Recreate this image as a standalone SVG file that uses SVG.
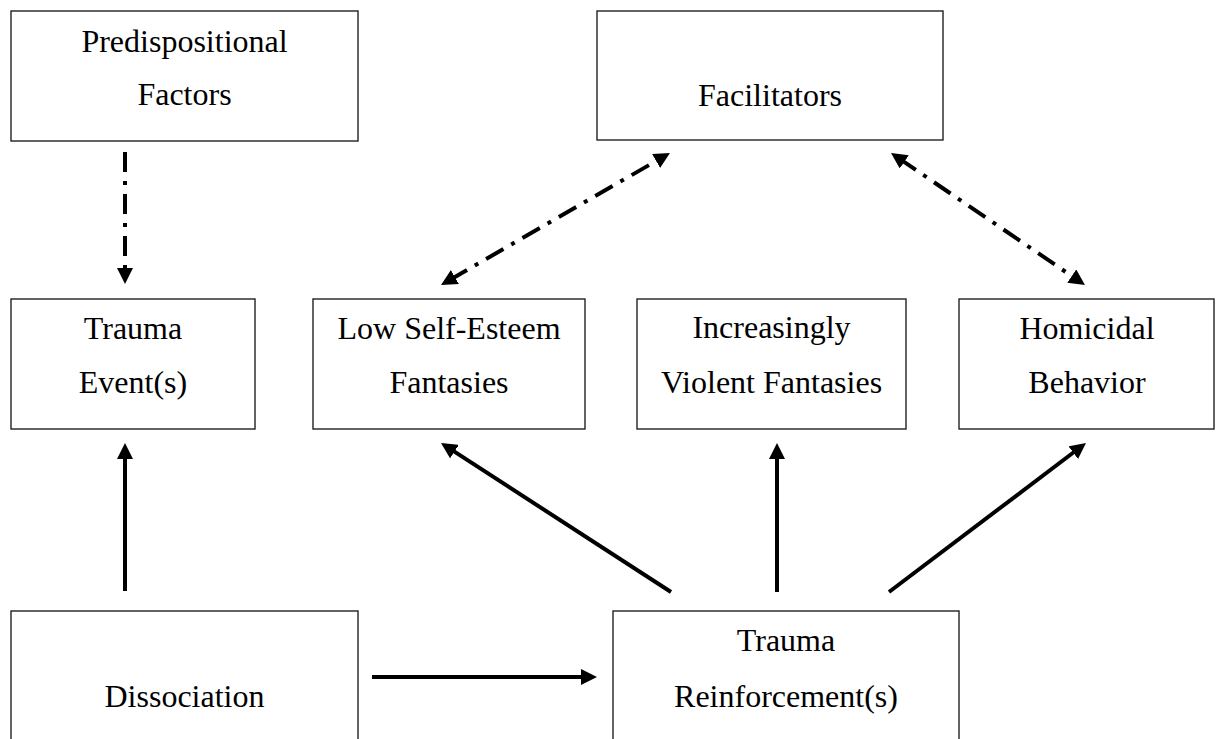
<svg xmlns="http://www.w3.org/2000/svg" width="1219" height="739" viewBox="0 0 1219 739">
  <style>
    .box { fill: #ffffff; stroke: #222222; stroke-width: 1.4; }
    .label { font-size: 32px; fill: #000000; text-anchor: middle; }
    .solid { fill: none; stroke: #000000; stroke-width: 4; marker-end: url(#head); }
    .dashdot { fill: none; stroke: #000000; stroke-width: 4; stroke-dasharray: 20 9 4 9; }
    .one-way { marker-end: url(#head); }
    .two-way { marker-start: url(#head); marker-end: url(#head); }
  </style>
  <defs>
    <marker id="head" markerUnits="userSpaceOnUse" markerWidth="16" markerHeight="16" refX="6" refY="8" orient="auto-start-reverse">
      <path d="M0,0 L16,8 L0,16 Z" fill="#000000"/>
    </marker>
  </defs>
  <rect width="1219" height="739" fill="#ffffff"/>

  <g font-family="'Liberation Serif', 'Times New Roman', Times, 'DejaVu Serif', serif">
  <g id="predispositional-factors">
    <rect class="box" x="11" y="11" width="347" height="130"/>
    <text class="label" x="184.5" y="52">Predispositional</text>
    <text class="label" x="184.5" y="105">Factors</text>
  </g>

  <g id="facilitators">
    <rect class="box" x="597" y="11" width="346" height="129"/>
    <text class="label" x="770" y="106">Facilitators</text>
  </g>

  <g id="trauma-events">
    <rect class="box" x="11" y="299" width="244" height="130"/>
    <text class="label" x="133" y="339">Trauma</text>
    <text class="label" x="133" y="393">Event(s)</text>
  </g>

  <g id="low-self-esteem-fantasies">
    <rect class="box" x="313" y="299" width="272" height="130"/>
    <text class="label" x="449" y="339">Low Self-Esteem</text>
    <text class="label" x="449" y="393">Fantasies</text>
  </g>

  <g id="violent-fantasies">
    <rect class="box" x="637" y="299" width="269" height="130"/>
    <text class="label" x="771.5" y="338">Increasingly</text>
    <text class="label" x="771.5" y="393">Violent Fantasies</text>
  </g>

  <g id="homicidal-behavior">
    <rect class="box" x="959" y="299" width="255" height="130"/>
    <text class="label" x="1087" y="339">Homicidal</text>
    <text class="label" x="1087" y="393">Behavior</text>
  </g>

  <g id="dissociation">
    <rect class="box" x="11" y="611" width="347" height="150"/>
    <text class="label" x="184.5" y="707">Dissociation</text>
  </g>

  <g id="trauma-reinforcements">
    <rect class="box" x="613" y="611" width="346" height="150"/>
    <text class="label" x="786" y="651">Trauma</text>
    <text class="label" x="786" y="707">Reinforcement(s)</text>
  </g>
  </g>

  <g id="connectors">
    <!-- dash-dot influence links -->
    <path class="dashdot one-way" d="M125,152 L125,274"/>
    <path class="dashdot two-way" d="M449.7,280 L661.3,158"/>
    <path class="dashdot two-way" d="M899.3,158.6 L1076.7,279.4"/>
    <!-- solid causal links -->
    <path class="solid" d="M125,591 L125,453"/>
    <path class="solid" d="M372,677 L587,677"/>
    <path class="solid" d="M671,592 L449.4,448.4"/>
    <path class="solid" d="M777,592 L777,453"/>
    <path class="solid" d="M889,592 L1078,449"/>
  </g>
</svg>
